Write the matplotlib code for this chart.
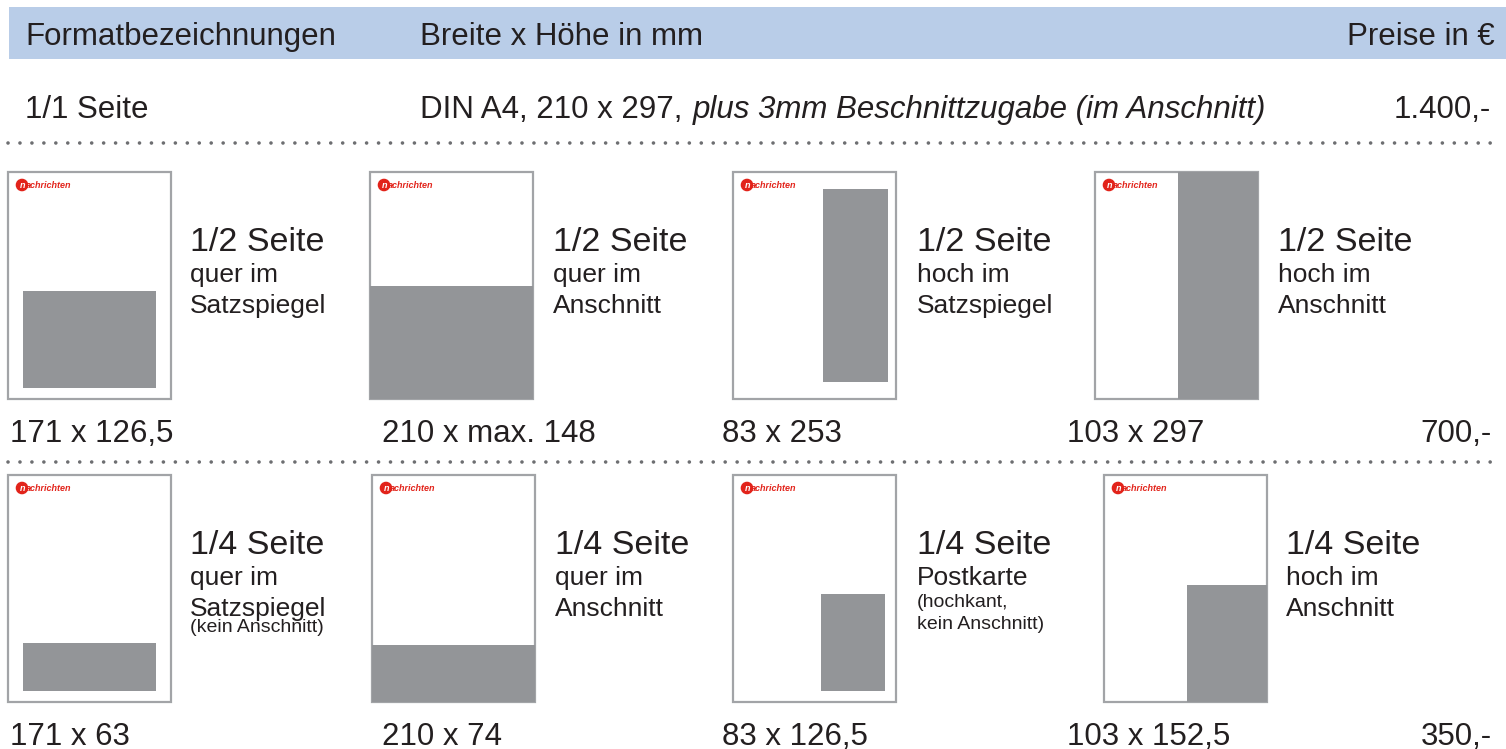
"""Anzeigenformate: Tabelle mit Seiten-Skizzen (out.png)."""
import matplotlib

matplotlib.use("Agg")
import matplotlib.pyplot as plt
from matplotlib.patches import Rectangle, Circle

plt.rcParams["font.family"] = ["Liberation Sans", "DejaVu Sans"]

INK = "#231F20"
BAND = "#B9CDE8"
AD = "#939598"
FRAME = "#A2A4A7"
RED = "#E2231A"
DOTS = "#6D6E71"

# ---- Daten -----------------------------------------------------------------
HEADERS = ["Formatbezeichnungen", "Breite x Höhe in mm", "Preise in €"]

FULL_NAME = "1/1 Seite"
FULL_SIZE = "DIN A4, 210 x 297,"
FULL_NOTE = "plus 3mm Beschnittzugabe (im Anschnitt)"
FULL_PRICE = "1.400,-"

PAGE_MM = (210, 297)  # DIN A4

HALF_TITLE = "1/2 Seite"
HALF_SUB = [["quer im", "Satzspiegel"], ["quer im", "Anschnitt"],
            ["hoch im", "Satzspiegel"], ["hoch im", "Anschnitt"]]
HALF_NOTE = [[], [], [], []]
HALF_W = [171, 210, 83, 103]
HALF_H = [126.5, 148, 253, 297]
HALF_KIND = ["quer", "bleed", "hoch", "bleed"]
HALF_LABEL = ["171 x 126,5", "210 x max. 148", "83 x 253", "103 x 297"]
HALF_PRICE = "700,-"

QUARTER_TITLE = "1/4 Seite"
QUARTER_SUB = [["quer im", "Satzspiegel"], ["quer im", "Anschnitt"],
               ["Postkarte"], ["hoch im", "Anschnitt"]]
QUARTER_NOTE = [["(kein Anschnitt)"], [], ["(hochkant,", "kein Anschnitt)"], []]
QUARTER_W = [171, 210, 83, 103]
QUARTER_H = [63, 74, 126.5, 152.5]
QUARTER_KIND = ["quer", "bleed", "post", "bleed"]
QUARTER_LABEL = ["171 x 63", "210 x 74", "83 x 126,5", "103 x 152,5"]
QUARTER_PRICE = "350,-"

# ---- Leinwand in Pixeln ----------------------------------------------------
fig = plt.figure(figsize=(15.06, 7.49), dpi=100)
ax = fig.add_axes([0, 0, 1, 1])
ax.set_xlim(0, 1506)
ax.set_ylim(749, 0)
ax.axis("off")

BIG = 22.5
TITLE = 24.5
SUB = 19
SMALL = 14
LABEL_X = [10, 382, 722, 1067]


def dotted(y):
    ax.plot([8, 1500], [y, y], color=DOTS, lw=2.6,
            linestyle=(0, (0.01, 3.3)), dash_capstyle="round")


def ad_box(w, h, kind):
    pw, ph = PAGE_MM
    if kind == "bleed":
        return pw - w, ph - h
    if kind == "quer":
        return (pw - w) / 2, ph - 14.5 - h
    if kind == "hoch":
        return pw - 10.5 - w, (ph - h) / 2
    return pw - 14 - w, ph - 14.5 - h  # postkarte


def page(left, top, w, h, kind, pw_px=163, ph_px=227):
    sx = pw_px / PAGE_MM[0]
    sy = ph_px / PAGE_MM[1]
    ax.add_patch(Rectangle((left, top), pw_px, ph_px, facecolor="white",
                           edgecolor=FRAME, lw=1.6, zorder=2))
    x0, y0 = ad_box(w, h, kind)
    ax.add_patch(Rectangle((left + x0 * sx, top + y0 * sy), w * sx, h * sy,
                           facecolor=AD, edgecolor="none", zorder=3))
    # kleines Logo oben links
    cx, cy = left + 14, top + 13
    ax.add_patch(Circle((cx, cy), 5.6, color=RED, zorder=4))
    ax.text(cx + 1, cy + 0.8, "n", color="white", fontsize=6.5, style="italic",
            fontweight="bold", ha="center", va="center", zorder=5)
    ax.text(cx + 4.3, cy + 0.8, "achrichten", color=RED, fontsize=6.5,
            style="italic", fontweight="bold", ha="left", va="center", zorder=5)


def row(lefts, top, title_x, base, title, subs, notes, ws, hs, kinds,
        labels, price, label_base, note_gap):
    for i in range(4):
        page(lefts[i], top, ws[i], hs[i], kinds[i])
        x = title_x[i]
        ax.text(x, base, title, fontsize=TITLE, color=INK, va="baseline")
        y = base
        for s in subs[i]:
            y += 31
            ax.text(x, y, s, fontsize=SUB, color=INK, va="baseline")
        for k, n in enumerate(notes[i]):
            y += note_gap[len(subs[i]) - 1] if k == 0 else 22
            ax.text(x, y, n, fontsize=SMALL, color=INK, va="baseline")
        ax.text(LABEL_X[i], label_base, labels[i], fontsize=BIG, color=INK,
                va="baseline")
    ax.text(1492, label_base, price, fontsize=BIG, color=INK,
            ha="right", va="baseline")


# ---- Kopfzeile --------------------------------------------------------------
ax.add_patch(Rectangle((9, 7), 1497, 52, facecolor=BAND, edgecolor="none"))
ax.text(25, 45, HEADERS[0], fontsize=BIG, color=INK, va="baseline")
ax.text(420, 45, HEADERS[1], fontsize=BIG, color=INK, va="baseline")
ax.text(1495, 45, HEADERS[2], fontsize=BIG, color=INK, ha="right", va="baseline")

# ---- 1/1 Seite --------------------------------------------------------------
ax.text(25, 118, FULL_NAME, fontsize=BIG, color=INK, va="baseline")
t1 = ax.text(420, 118, FULL_SIZE, fontsize=BIG, color=INK, va="baseline")
ax.annotate(FULL_NOTE, xy=(1, 118), xycoords=(t1, "data"), xytext=(10, 0),
            textcoords="offset pixels", fontsize=BIG, style="italic",
            color=INK, va="baseline")
ax.text(1491, 118, FULL_PRICE, fontsize=BIG, color=INK, ha="right",
        va="baseline")
dotted(143)

# ---- 1/2 Seite --------------------------------------------------------------
row([8, 370, 733, 1095], 172, [190, 553, 917, 1278], 251, HALF_TITLE,
    HALF_SUB, HALF_NOTE, HALF_W, HALF_H, HALF_KIND, HALF_LABEL, HALF_PRICE,
    442, (22, 16))
dotted(462)

# ---- 1/4 Seite --------------------------------------------------------------
row([8, 372, 733, 1104], 475, [190, 555, 917, 1286], 554, QUARTER_TITLE,
    QUARTER_SUB, QUARTER_NOTE, QUARTER_W, QUARTER_H, QUARTER_KIND,
    QUARTER_LABEL, QUARTER_PRICE, 745, (22, 16))

fig.savefig("out.png", dpi=100, facecolor="white")
